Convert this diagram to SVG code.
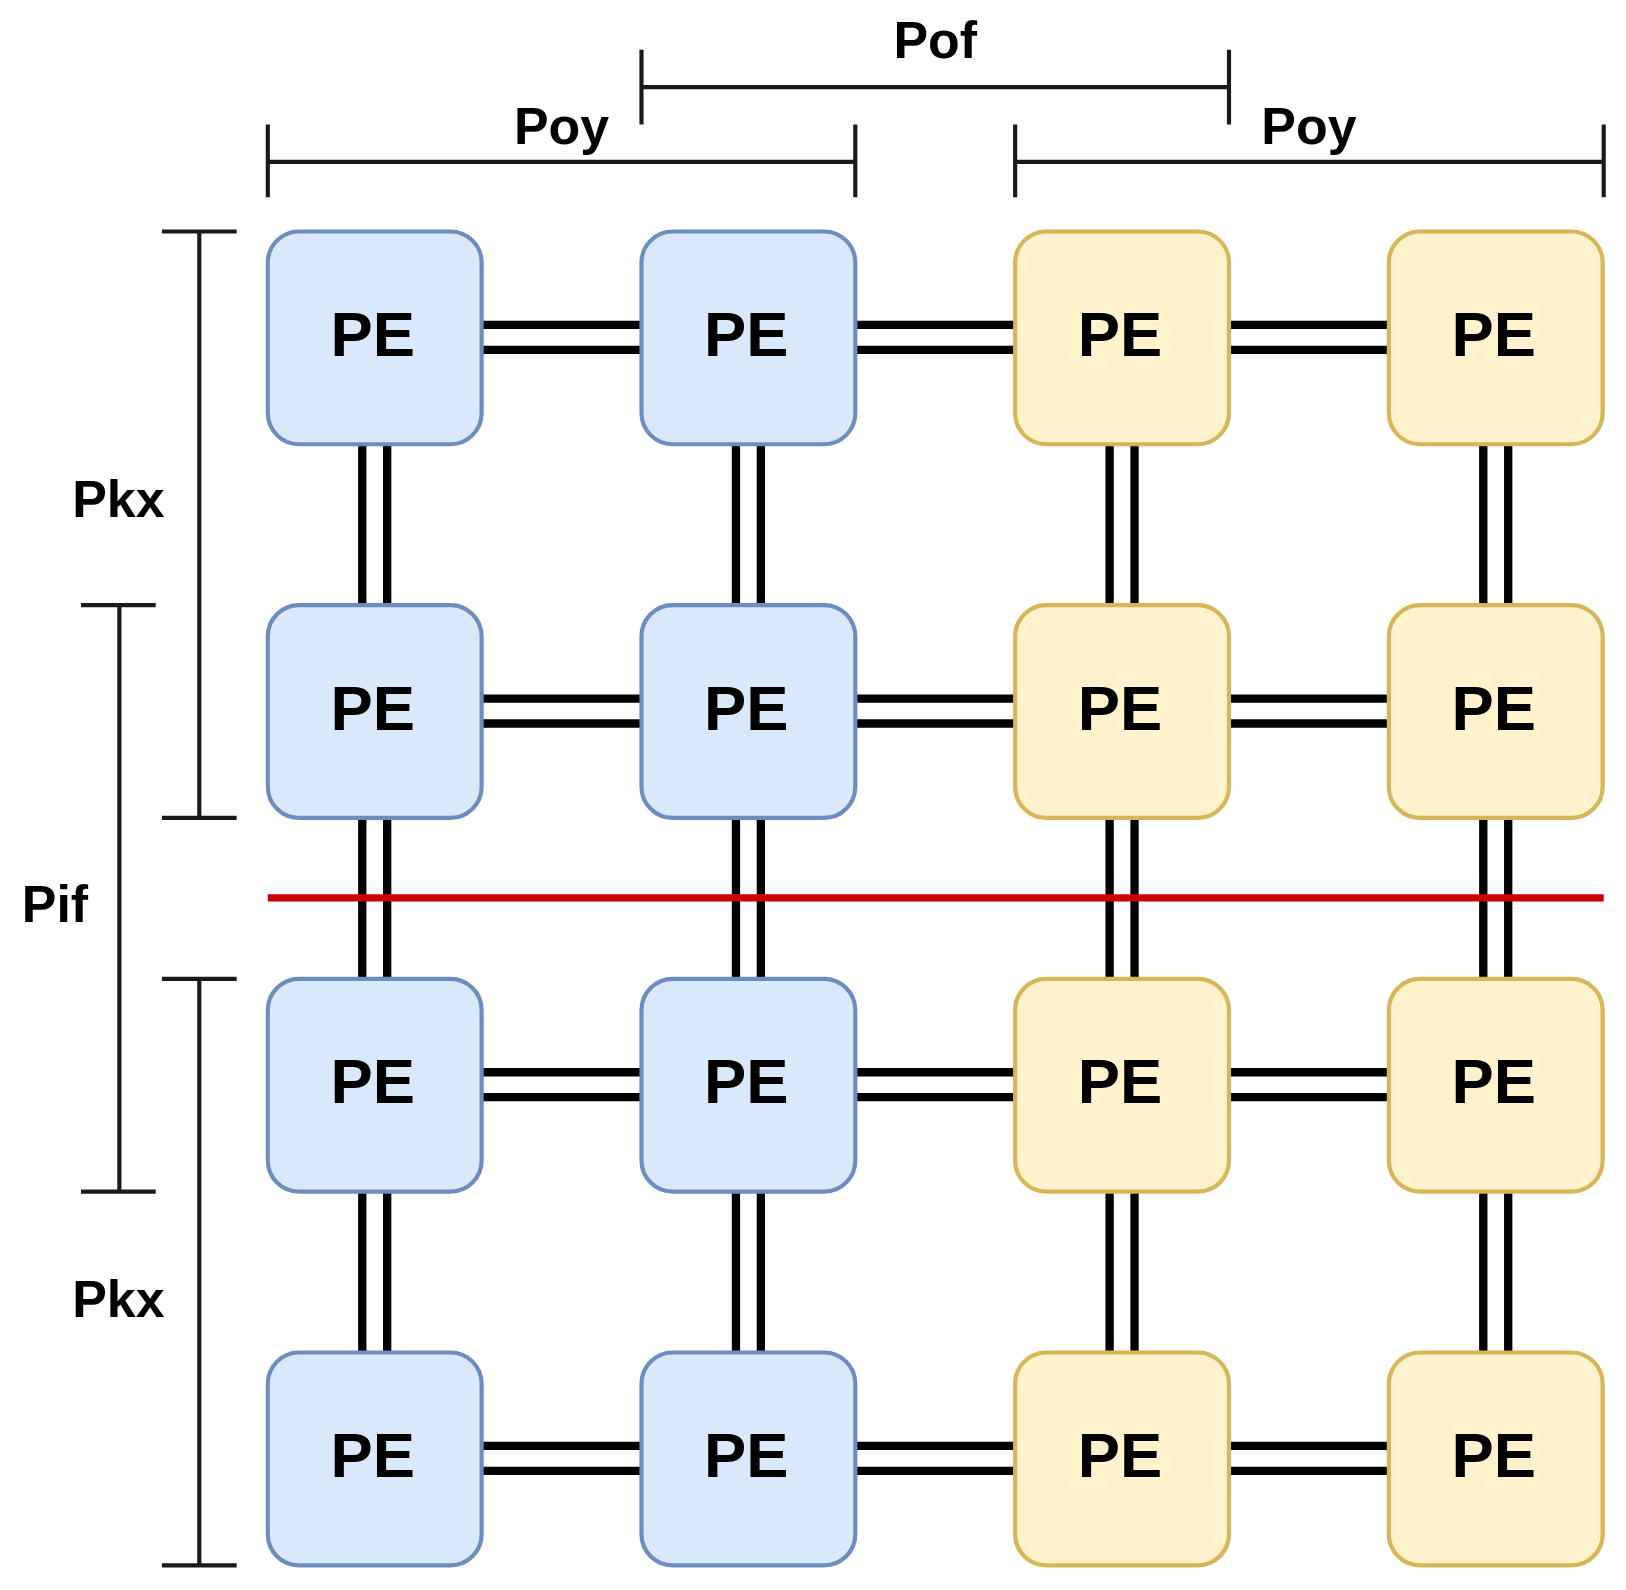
<svg xmlns="http://www.w3.org/2000/svg" width="1626" height="1590" viewBox="0 0 1626 1590">
<style>
.b{fill:#dae8fc;stroke:#6c8ebf;stroke-width:4}
.y{fill:#fff2cc;stroke:#d6b656;stroke-width:4}
.t{font-family:"Liberation Sans",Arial,sans-serif;font-weight:bold;font-size:61px;text-anchor:middle}
.l{font-family:"Liberation Sans",Arial,sans-serif;font-weight:bold;font-size:50px;text-anchor:middle}
.c{stroke:#000;stroke-width:8;fill:none}
.d{stroke:#1a1a1a;stroke-width:4;fill:none}
</style>
<defs>
<g id="pb"><rect class="b" x="0" y="0" width="206" height="205" rx="30"/><text class="t" x="101" y="120">PE</text></g>
<g id="py"><rect class="y" x="0" y="0" width="206" height="205" rx="30"/><text class="t" x="101" y="120">PE</text></g>
</defs>
<g transform="scale(1.038)">
<g id="connectors">
<path class="c" d="M464 313H618M464 337H618M824 313H978M824 337H978M1184 313H1338M1184 337H1338
M464 673H618M464 697H618M824 673H978M824 697H978M1184 673H1338M1184 697H1338
M464 1033H618M464 1057H618M824 1033H978M824 1057H978M1184 1033H1338M1184 1057H1338
M464 1393H618M464 1417H618M824 1393H978M824 1417H978M1184 1393H1338M1184 1417H1338"/>
<path class="c" d="M349 428V583M373 428V583M709 428V583M733 428V583M1069 428V583M1093 428V583M1429 428V583M1453 428V583
M349 788V943M373 788V943M709 788V943M733 788V943M1069 788V943M1093 788V943M1429 788V943M1453 788V943
M349 1148V1303M373 1148V1303M709 1148V1303M733 1148V1303M1069 1148V1303M1093 1148V1303M1429 1148V1303M1453 1148V1303"/>
<line x1="258" y1="865" x2="1545" y2="865" stroke="#cc0000" stroke-width="7"/>
</g>
<g id="pe11"><use href="#pb" x="258" y="223"/></g>
<g id="pe12"><use href="#pb" x="618" y="223"/></g>
<g id="pe13"><use href="#py" x="978" y="223"/></g>
<g id="pe14"><use href="#py" x="1338" y="223"/></g>
<g id="pe21"><use href="#pb" x="258" y="583"/></g>
<g id="pe22"><use href="#pb" x="618" y="583"/></g>
<g id="pe23"><use href="#py" x="978" y="583"/></g>
<g id="pe24"><use href="#py" x="1338" y="583"/></g>
<g id="pe31"><use href="#pb" x="258" y="943"/></g>
<g id="pe32"><use href="#pb" x="618" y="943"/></g>
<g id="pe33"><use href="#py" x="978" y="943"/></g>
<g id="pe34"><use href="#py" x="1338" y="943"/></g>
<g id="pe41"><use href="#pb" x="258" y="1303"/></g>
<g id="pe42"><use href="#pb" x="618" y="1303"/></g>
<g id="pe43"><use href="#py" x="978" y="1303"/></g>
<g id="pe44"><use href="#py" x="1338" y="1303"/></g>
<g id="dims">
<path class="d" d="M258 156H824M258 120V190M824 120V190"/>
<path class="d" d="M978 156H1545M978 120V190M1545 120V190"/>
<path class="d" d="M618 84H1184M618 48V120M1184 48V120"/>
<path class="d" d="M192 223V788M156 223H228M156 788H228"/>
<path class="d" d="M115 583V1148M78 583H150M78 1148H150"/>
<path class="d" d="M192 943V1508M156 943H228M156 1508H228"/>
<text class="l" x="541" y="139">Poy</text>
<text class="l" x="1261" y="139">Poy</text>
<text class="l" x="901" y="56">Pof</text>
<text class="l" x="114" y="498">Pkx</text>
<text class="l" x="114" y="1269">Pkx</text>
<text class="l" x="53" y="888">Pif</text>
</g>
</g>
</svg>
